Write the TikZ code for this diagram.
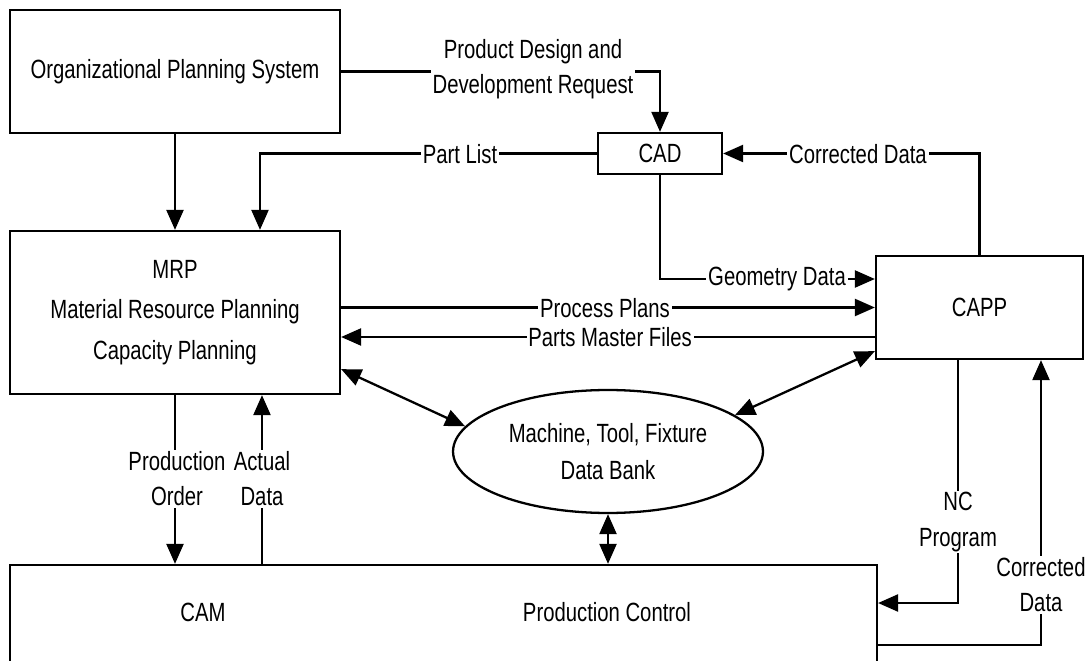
\documentclass[tikz,border=0pt]{standalone}
\usepackage{fontspec}
\setmainfont{Liberation Sans}[FakeStretch=0.77]
\usepackage{tikz}
\usetikzlibrary{shapes.geometric, arrows.meta, positioning}
\tikzset{
  block/.style={rectangle, draw, line width=1.3pt, align=center,
    inner sep=0pt, font=\fontsize{15}{23}\selectfont},
  lbl/.style={fill=white, inner sep=1pt, align=center,
    font=\fontsize{15}{20}\selectfont},
  arrow/.style={-{Triangle[length=0.4cm, width=0.34cm]}, line width=1.3pt},
  biarrow/.style={{Triangle[length=0.4cm, width=0.34cm]}-{Triangle[length=0.4cm, width=0.34cm]}, line width=1.3pt}
}

\begin{document}
\begin{tikzpicture}[x=0.02cm, y=-0.02cm]
  \clip (0,0) rectangle (1087,661);

  % boxes
  \node[block, minimum width=6.6cm, minimum height=2.46cm] (org) at (175,71.5) {Organizational Planning System};
  \node[block, minimum width=2.48cm, minimum height=0.82cm] (cad) at (660,153.5) {CAD};
  \node[block, minimum width=6.6cm, minimum height=3.26cm] (mrp) at (175,312.5) {MRP\\Material Resource Planning\\Capacity Planning};
  \node[block, ellipse, minimum width=6.2cm, minimum height=2.46cm, font=\fontsize{15}{21}\selectfont] (bank) at (608,451.5) {Machine, Tool, Fixture\\Data Bank};
  \node[block, minimum width=4.14cm, minimum height=2.06cm] (capp) at (979.5,307.5) {CAPP};
  \node[block, minimum width=17.34cm, minimum height=2.2cm] (prod) at (443.5,620) {};
  \node[lbl, fill=none] (cam) at (203,612) {CAM};
  \node[lbl, fill=none] (ctrl) at (607,612) {Production Control};

  % flows
  \draw[arrow] (org.east) -| (cad.north);
  \node[lbl] (req) at (533,69) {Product Design and\\Development Request};

  \draw[arrow] (cad.west) -| ([xshift=1.7cm]mrp.north);
  \node[lbl] (plist) at (460,154) {Part List};

  \draw[arrow] (org.south) -- (mrp.north);

  \draw[arrow] (capp.north) |- (cad.east);
  \node[lbl] (corr) at (858,154) {Corrected Data};

  \draw[arrow] (cad.south) |- ([yshift=0.57cm]capp.west);
  \node[lbl] (geo) at (777,279) {Geometry Data};

  \draw[arrow] (capp.west -| mrp.east) -- (capp.west);
  \node[lbl] (plans) at (605,308) {Process Plans};

  \coordinate (pm) at ([yshift=-0.59cm]capp.west);
  \draw[arrow] (pm) -- (pm -| mrp.east);
  \node[lbl] (files) at (610,337) {Parts Master Files};

  \draw[biarrow] ([yshift=0.52cm]mrp.south east) -- (bank.170);
  \draw[biarrow] ([yshift=0.18cm]capp.south west) -- (bank.16);
  \draw[biarrow] (bank.south) -- (bank.south |- prod.north);

  \draw[arrow] (mrp.south) -- (mrp.south |- prod.north);
  \node[lbl] (order) at (177,479) {Production\\Order};

  \coordinate (ad) at ([xshift=1.74cm]mrp.south);
  \draw[arrow] (ad |- prod.north) -- (ad);
  \node[lbl] (actual) at (262,479) {Actual\\Data};

  \coordinate (nc) at ([xshift=-0.43cm]capp.south);
  \draw[arrow] (nc) |- ([yshift=0.34cm]prod.east);
  \node[lbl] (ncp) at (958,522) {NC\\Program};

  \draw[arrow] ([yshift=-0.5cm]prod.east) -| ([xshift=1.23cm]capp.south);
  \node[lbl] (corr2) at (1041,585) {Corrected\\Data};
\end{tikzpicture}
\end{document}
